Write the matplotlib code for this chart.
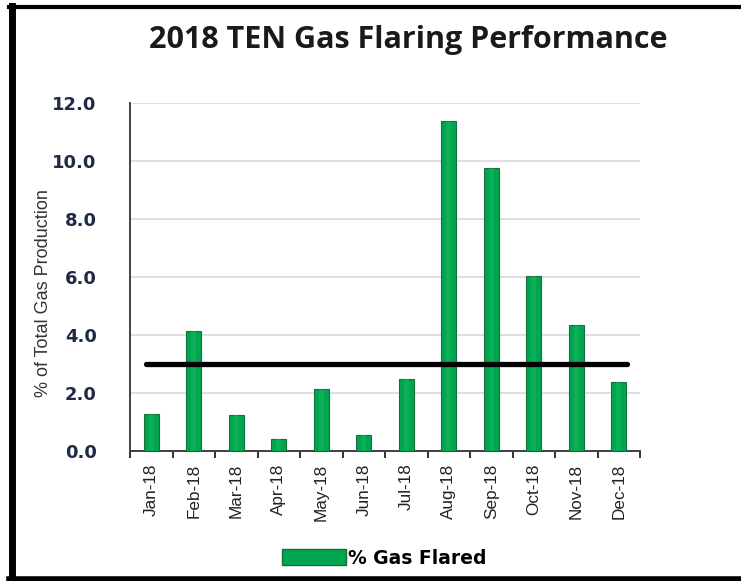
import matplotlib
matplotlib.use("Agg")
import matplotlib.pyplot as plt
from matplotlib.lines import Line2D
from matplotlib.patches import Patch
import numpy as np

months = ["Jan-18", "Feb-18", "Mar-18", "Apr-18", "May-18", "Jun-18",
          "Jul-18", "Aug-18", "Sep-18", "Oct-18", "Nov-18", "Dec-18"]
flared = [1.28, 4.15, 1.25, 0.42, 2.15, 0.55, 2.5, 11.37, 9.75, 6.04, 4.34, 2.37]
target = 3.0
yticks = [0, 2, 4, 6, 8, 10, 12]

plt.rcParams['font.family'] = ['Open Sans', 'DejaVu Sans']

fig = plt.figure(figsize=(7.41, 5.81), dpi=100)
ax = fig.add_axes([130 / 741, 1 - 451 / 581, 510 / 741, 348 / 581])

x = np.arange(len(months))
ax.bar(x, flared, width=0.36, color="#00a54f", edgecolor="#17703a", linewidth=0.8, zorder=3)
# light highlight down the middle of each bar
ax.bar(x, flared, width=0.12, color="#1fc467", linewidth=0, alpha=0.35, zorder=4)
ax.hlines(target, x[0] - 0.12, x[-1] + 0.2, color="black", linewidth=3.8,
          capstyle="round", zorder=5)

ax.set_xlim(-0.5, len(months) - 0.5)
ax.set_ylim(0, 12)
ax.set_yticks(yticks)
ax.set_yticklabels([f"{v:.1f}" for v in yticks], fontsize=13, fontweight="bold",
                   color="#1f2a44", family=["DejaVu Sans"])
ax.tick_params(axis="y", length=0, pad=24)
ax.set_xticks(x)
ax.set_xticklabels(months, rotation=90, fontsize=12.3, color="#222222",
                   family=["Liberation Sans", "DejaVu Sans"])
ax.tick_params(axis="x", which="major", length=0, pad=9)
ax.set_xticks(np.arange(-0.5, len(months)), minor=True)
ax.tick_params(axis="x", which="minor", length=5, width=1.4, color="#333333", direction="out")

ax.yaxis.grid(True, color="#d9d9d9", linewidth=1.2, zorder=0)
ax.set_axisbelow(True)
for s in ["top", "right"]:
    ax.spines[s].set_visible(False)
for s in ["left", "bottom"]:
    ax.spines[s].set_color("#404040")
    ax.spines[s].set_linewidth(1.4)

ax.set_ylabel("% of Total Gas Production", fontsize=13, color="#333333",
              family=["Liberation Sans", "DejaVu Sans"])
ax.yaxis.set_label_coords((52 - 130) / 510, (451 - 293) / 348)

fig.text(408 / 741, 1 - 40 / 581, "2018 TEN Gas Flaring Performance",
         ha="center", va="center", fontsize=22, fontweight="bold", color="#1a1a1a")

handle = Patch(facecolor="#00a54f", edgecolor="#17703a")
fig.legend([handle], ["% Gas Flared"], loc="center", bbox_to_anchor=(384 / 741, 1 - 558 / 581),
           frameon=False, prop={"weight": "bold", "size": 13.5, "family": "DejaVu Sans"},
           handlelength=3.4, handleheight=1.0, handletextpad=0.1)

# black frame on left, top, bottom
fig.add_artist(Line2D([11.5 / 741, 11.5 / 741], [0, 1 - 6 / 581], transform=fig.transFigure,
                      color="black", linewidth=5))
fig.add_artist(Line2D([9 / 741, 1], [1 - 7 / 581, 1 - 7 / 581], transform=fig.transFigure,
                      color="black", linewidth=3))
fig.add_artist(Line2D([9 / 741, 1], [2.5 / 581, 2.5 / 581], transform=fig.transFigure,
                      color="black", linewidth=4))

fig.savefig("out.png", dpi=100)
